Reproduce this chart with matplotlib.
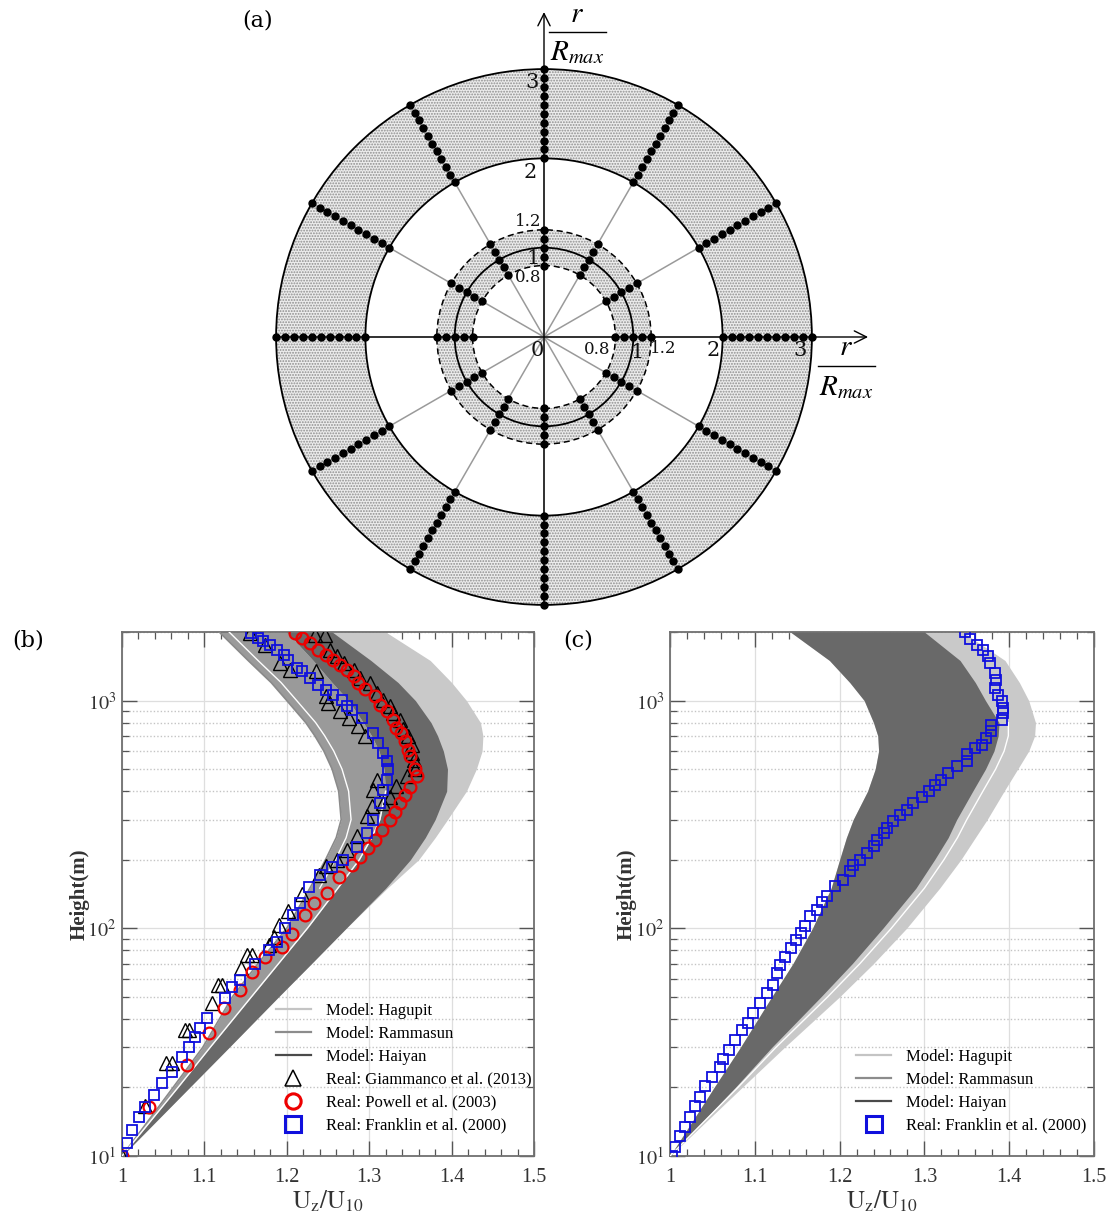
import numpy as np
import matplotlib
matplotlib.use("Agg")
import matplotlib.pyplot as plt
from matplotlib.patches import Wedge, Circle
from matplotlib.lines import Line2D
from matplotlib.ticker import MultipleLocator, FixedLocator, NullFormatter

plt.rcParams['mathtext.fontset'] = 'stix'
plt.rcParams['hatch.linewidth'] = 0.9

# ---------------- panel (a) data ----------------
spoke_angles_deg = [0, 30, 60, 90, 120, 150, 180, 210, 240, 270, 300, 330]
inner_ring_r = [0.8, 0.9, 1.0, 1.1, 1.2]
outer_ring_r = [2.0, 2.1, 2.2, 2.3, 2.4, 2.5, 2.6, 2.7, 2.8, 2.9, 3.0]
solid_circles_r = [1.0, 2.0, 3.0]
dashed_circles_r = [0.8, 1.2]
shaded_bands = [(0.8, 1.2), (2.0, 3.0)]

# ---------------- panel (b)/(c) model envelopes ----------------
band_h = [10, 20, 30, 50, 70, 100, 150, 200, 250, 300, 400, 500, 600, 700, 800, 1000, 1200, 1500, 2000]

ram_left_b = [1.000, 1.062, 1.098, 1.134, 1.165, 1.200, 1.228, 1.247, 1.260, 1.266, 1.263, 1.255, 1.245, 1.234, 1.223, 1.200, 1.181, 1.153, 1.118]
ram_gap_b = [1.000, 1.070, 1.108, 1.145, 1.177, 1.212, 1.240, 1.259, 1.272, 1.278, 1.275, 1.267, 1.257, 1.246, 1.235, 1.212, 1.193, 1.165, 1.130]
hai_left_b = [1.000, 1.068, 1.107, 1.157, 1.190, 1.225, 1.262, 1.288, 1.303, 1.313, 1.320, 1.318, 1.312, 1.303, 1.293, 1.275, 1.255, 1.232, 1.200]
hai_right_b = [1.000, 1.082, 1.130, 1.190, 1.230, 1.272, 1.320, 1.350, 1.368, 1.380, 1.394, 1.395, 1.390, 1.383, 1.375, 1.356, 1.335, 1.302, 1.255]
hag_right_b = [1.000, 1.082, 1.130, 1.190, 1.230, 1.272, 1.322, 1.360, 1.380, 1.395, 1.418, 1.430, 1.437, 1.438, 1.435, 1.418, 1.400, 1.374, 1.320]

hai_left_c = [1.000, 1.052, 1.083, 1.120, 1.145, 1.168, 1.190, 1.200, 1.208, 1.216, 1.233, 1.242, 1.246, 1.245, 1.240, 1.229, 1.212, 1.188, 1.142]
hai_right_c = [1.000, 1.077, 1.120, 1.178, 1.215, 1.251, 1.290, 1.312, 1.328, 1.338, 1.357, 1.372, 1.382, 1.387, 1.388, 1.372, 1.360, 1.342, 1.300]
hag_gap_c = [1.000, 1.080, 1.125, 1.186, 1.224, 1.261, 1.300, 1.323, 1.339, 1.350, 1.369, 1.384, 1.394, 1.399, 1.399, 1.385, 1.372, 1.354, 1.312]
hag_right_c = [1.000, 1.085, 1.135, 1.200, 1.240, 1.279, 1.318, 1.343, 1.360, 1.374, 1.394, 1.410, 1.423, 1.430, 1.431, 1.423, 1.412, 1.395, 1.345]

# ---------------- measured profiles ----------------
giam_x = [1.000, 1.028, 1.053, 1.061, 1.077, 1.081, 1.109, 1.117, 1.121, 1.144, 1.152, 1.158, 1.178, 1.184, 1.190, 1.202, 1.218, 1.239, 1.248, 1.261, 1.273, 1.285, 1.297, 1.303, 1.305, 1.309,
          1.295, 1.287, 1.275, 1.265, 1.250, 1.248, 1.236, 1.204, 1.192, 1.174, 1.155,
          1.317, 1.325, 1.333, 1.346, 1.356, 1.354, 1.352, 1.352, 1.347, 1.341, 1.337, 1.329, 1.325, 1.317, 1.309, 1.301, 1.289, 1.281, 1.269, 1.261, 1.252, 1.246, 1.234]
giam_h = [10, 16.5, 25.5, 25.5, 35.8, 35.8, 46.9, 56.6, 56.6, 66.8, 76.3, 76.3, 84.6, 92, 103.6, 119, 142, 172, 187, 200, 221, 253, 310, 343, 406, 449,
          697, 771, 839, 898, 977, 1045, 1345, 1368, 1466, 1762, 1985,
          355, 379, 420, 465, 498, 550, 589, 641, 697, 747, 824, 883, 943, 1009, 1082, 1196, 1260, 1368, 1466, 1566, 1675, 1950, 1950]

powell_x = [1.000, 1.033, 1.079, 1.106, 1.124, 1.143, 1.158, 1.174, 1.194, 1.206, 1.222, 1.233, 1.249, 1.263, 1.279, 1.289, 1.299, 1.307, 1.315, 1.325,
            1.331, 1.337, 1.343, 1.350, 1.358, 1.356, 1.350, 1.347, 1.343, 1.339, 1.333, 1.329, 1.321, 1.313, 1.307, 1.295, 1.287, 1.281, 1.273, 1.265,
            1.256, 1.248, 1.238, 1.228, 1.218, 1.210]
powell_h = [10, 16.4, 25.1, 34.7, 44.7, 53.7, 64, 75, 83, 94, 114, 129, 143, 168, 190, 206, 225, 245, 271, 300,
            325, 356, 385, 419, 465, 498, 569, 609, 663, 721, 759, 824, 898, 960, 1045, 1120, 1196, 1279, 1368, 1439,
            1514, 1592, 1675, 1796, 1888, 1985]

franklin_b_x = [1.000, 1.006, 1.012, 1.021, 1.028, 1.039, 1.049, 1.061, 1.073, 1.081, 1.089, 1.095, 1.103, 1.125, 1.134, 1.143, 1.162, 1.178, 1.188, 1.198,
                1.207, 1.216, 1.227, 1.240, 1.255, 1.268, 1.285, 1.297, 1.305, 1.313, 1.317, 1.321, 1.323, 1.321, 1.317, 1.311, 1.305, 1.291, 1.279, 1.273,
                1.267, 1.256, 1.248, 1.238, 1.228, 1.218, 1.212, 1.202, 1.196, 1.188, 1.180, 1.171, 1.165, 1.157]
franklin_b_h = [10, 11.4, 13, 14.8, 16.4, 18.5, 20.9, 23.4, 27.2, 30.1, 33.3, 36.6, 40.5, 49.5, 55, 59, 70, 80, 87, 100,
                114, 129, 152, 172, 185, 200, 228, 263, 300, 356, 406, 449, 498, 542, 589, 653, 721, 839, 912, 943,
                1009, 1062, 1117, 1175, 1260, 1345, 1390, 1514, 1592, 1675, 1762, 1824, 1888, 1985]

franklin_c_x = [1.002, 1.006, 1.012, 1.018, 1.024, 1.029, 1.035, 1.041, 1.049, 1.059, 1.063, 1.069, 1.077, 1.085, 1.092, 1.098, 1.106, 1.114, 1.122, 1.126,
                1.130, 1.136, 1.143, 1.149, 1.155, 1.159, 1.165, 1.173, 1.179, 1.185, 1.195, 1.204, 1.212, 1.216, 1.224, 1.232, 1.240, 1.244, 1.252, 1.256,
                1.263, 1.271, 1.279, 1.287, 1.297, 1.305, 1.312, 1.320, 1.328, 1.338, 1.350, 1.350, 1.360, 1.368, 1.373, 1.379, 1.379, 1.391, 1.393, 1.393,
                1.391, 1.387, 1.383, 1.385, 1.383, 1.377, 1.375, 1.369, 1.362, 1.354, 1.348]
franklin_c_h = [10, 11, 12.2, 13.4, 14.9, 16.5, 18.2, 20.2, 22.3, 24.7, 26.8, 29.2, 32.4, 35.8, 38.3, 42.4, 46.9, 51.9, 56.6, 63.6,
                69, 75, 82, 89, 95, 102, 113, 120, 131, 138, 153, 163, 178, 190, 200, 214, 229, 245, 263, 276,
                295, 315, 332, 355, 379, 400, 427, 449, 481, 514, 542, 580, 620, 641, 685, 733, 784, 824, 882, 928,
                993, 1062, 1135, 1236, 1324, 1466, 1566, 1675, 1762, 1854, 1990]

x_ticks = [1.0, 1.1, 1.2, 1.3, 1.4, 1.5]
x_tick_labels = ['1', '1.1', '1.2', '1.3', '1.4', '1.5']
y_ticks = [10, 100, 1000]
y_tick_labels = [r'$10^{1}$', r'$10^{2}$', r'$10^{3}$']

legend_b = ['Model: Hagupit', 'Model: Rammasun', 'Model: Haiyan',
            'Real: Giammanco et al. (2013)', 'Real: Powell et al. (2003)', 'Real: Franklin et al. (2000)']
legend_c = ['Model: Hagupit', 'Model: Rammasun', 'Model: Haiyan', 'Real: Franklin et al. (2000)']

C_LIGHT = '#c9c9c9'
C_MID = '#9a9a9a'
C_DARK = '#696969'
SERIF = 'Liberation Serif'

W, H = 1112, 1223
fig = plt.figure(figsize=(W / 100, H / 100), dpi=100)


def fx(px):
    return px / W


def fy(py):
    return 1 - py / H


# ================= panel (a) =================
cx, cy, unit = 544, 337, 89.3
ax_a = fig.add_axes([0, fy(620), 1, 620 / H])
ax_a.set_xlim(-cx / unit, (W - cx) / unit)
ax_a.set_ylim(-(620 - cy) / unit, cy / unit)
ax_a.axis('off')

for r_in, r_out in shaded_bands:
    ax_a.add_patch(Wedge((0, 0), r_out, 0, 360, width=r_out - r_in, facecolor='#ececec',
                         edgecolor='#8e8e8e', hatch='......', lw=0, zorder=1))
for ang in spoke_angles_deg:
    t = np.deg2rad(ang)
    ax_a.plot([0, 3 * np.cos(t)], [0, 3 * np.sin(t)], color='#9a9a9a', lw=1.1, zorder=2)
for r in solid_circles_r:
    ax_a.add_patch(Circle((0, 0), r, fill=False, ec='black', lw=1.3, zorder=3))
for r in dashed_circles_r:
    ax_a.add_patch(Circle((0, 0), r, fill=False, ec='black', lw=1.1, ls=(0, (4, 2.5)), zorder=3))
for ang in spoke_angles_deg:
    t = np.deg2rad(ang)
    rr = np.array(inner_ring_r + outer_ring_r)
    ax_a.plot(rr * np.cos(t), rr * np.sin(t), 'o', color='black', ms=5.0, zorder=5)

# axes arrows
ax_a.annotate('', xy=(3.66, 0), xytext=(-3.0, 0),
              arrowprops=dict(arrowstyle='->', lw=1.0, color='black', mutation_scale=22), zorder=4)
ax_a.annotate('', xy=(0, 3.67), xytext=(0, -3.0),
              arrowprops=dict(arrowstyle='->', lw=1.0, color='black', mutation_scale=22), zorder=4)

# tick labels of panel (a)
num_kw = dict(family='DejaVu Serif', color='#111111', ha='center', va='center', zorder=6)
fig.text(fx(537), fy(350), '0', fontsize=15, **num_kw)
fig.text(fx(597), fy(350), '0.8', fontsize=12, **num_kw)
fig.text(fx(637), fy(352), '1', fontsize=15, **num_kw)
fig.text(fx(663), fy(348), '1.2', fontsize=12, **num_kw)
fig.text(fx(713), fy(350), '2', fontsize=15, **num_kw)
fig.text(fx(800), fy(350), '3', fontsize=15, **num_kw)
fig.text(fx(532), fy(83), '3', fontsize=15, **num_kw)
fig.text(fx(530), fy(172), '2', fontsize=15, **num_kw)
fig.text(fx(528), fy(222), '1.2', fontsize=12, **num_kw)
fig.text(fx(533), fy(259), '1', fontsize=15, **num_kw)
fig.text(fx(528), fy(278), '0.8', fontsize=12, **num_kw)

# r / R_max labels
for (xc, y_r, y_bar, y_R) in [(577, 14, 32, 52), (846, 347, 366, 387)]:
    fig.text(fx(xc), fy(y_r), r'$r$', fontsize=21, ha='center', va='center')
    fig.add_artist(Line2D([fx(xc - 28), fx(xc + 29)], [fy(y_bar), fy(y_bar)], color='black', lw=1.0,
                          transform=fig.transFigure))
    fig.text(fx(xc), fy(y_R), r'$R_{max}$', fontsize=21, ha='center', va='center')

fig.text(fx(258), fy(20), '(a)', fontsize=16, family='DejaVu Serif', ha='center', va='center')
fig.text(fx(28), fy(640), '(b)', fontsize=16, family='DejaVu Serif', ha='center', va='center')
fig.text(fx(578), fy(640), '(c)', fontsize=16, family='DejaVu Serif', ha='center', va='center')


# ================= panels (b), (c) =================
def style_axes(ax):
    ax.set_yscale('log')
    ax.set_xlim(1.0, 1.5)
    ax.set_ylim(10, 2000)
    ax.set_axisbelow(True)
    ax.xaxis.set_major_locator(FixedLocator(x_ticks))
    ax.set_xticklabels(x_tick_labels)
    ax.xaxis.set_minor_locator(MultipleLocator(0.02))
    ax.yaxis.set_major_locator(FixedLocator(y_ticks))
    ax.set_yticklabels(y_tick_labels)
    ax.yaxis.set_minor_formatter(NullFormatter())
    ax.grid(True, which='major', color='#dedede', lw=0.9)
    ax.grid(True, which='minor', axis='y', color='#c4c4c4', lw=1.0, ls=(0, (1, 1.5)))
    ax.tick_params(which='both', direction='in', top=True, right=True, colors='#555555',
                   labelcolor='#333333', labelsize=14.5)
    ax.tick_params(axis='x', which='major', pad=9)
    ax.tick_params(axis='y', which='major', pad=4)
    ax.tick_params(which='major', length=11, width=1.0)
    ax.tick_params(which='minor', length=5, width=0.9)
    for lab in ax.get_xticklabels():
        lab.set_family(SERIF)
    for s in ax.spines.values():
        s.set_color('#707070')
        s.set_linewidth(1.3)
    ax.set_xlabel(r'$\mathrm{U_{z}/U_{10}}$', fontsize=18, color='#333333', labelpad=1)
    ax.set_ylabel('Height(m)', fontsize=15, family=SERIF, fontweight='bold', color='#333333')
    ax.yaxis.set_label_coords(-0.078, 0.5)


ax_b = fig.add_axes([fx(122), fy(1156), (534 - 122) / W, (1156 - 632) / H])
ax_c = fig.add_axes([fx(670), fy(1156), (1094 - 670) / W, (1156 - 632) / H])

# (b) bands
ax_b.fill_betweenx(band_h, hai_left_b, hag_right_b, color=C_LIGHT, lw=0, zorder=1)
ax_b.fill_betweenx(band_h, ram_left_b, hai_left_b, color=C_MID, lw=0, zorder=2)
ax_b.fill_betweenx(band_h, hai_left_b, hai_right_b, color=C_DARK, lw=0, zorder=3)
ax_b.plot(ram_left_b, band_h, color='#8a8a8a', lw=1.2, zorder=3)
ax_b.plot(ram_gap_b[6:], band_h[6:], color='white', lw=1.0, zorder=3)
ax_b.plot(hai_left_b[:11], band_h[:11], color='white', lw=1.0, zorder=3.5)

ax_b.plot(giam_x, giam_h, ls='none', marker='^', ms=10, mfc='none', mec='black', mew=1.0, zorder=5)
ax_b.plot(powell_x, powell_h, ls='none', marker='o', ms=8.5, mfc='none', mec='#ee0000', mew=1.6, zorder=6)
ax_b.plot(franklin_b_x, franklin_b_h, ls='none', marker='s', ms=7, mfc='none', mec='#1010dd', mew=1.3, zorder=7)

# (c) bands
ax_c.fill_betweenx(band_h, hai_left_c, hag_right_c, color=C_LIGHT, lw=0, zorder=1)
ax_c.fill_betweenx(band_h, hai_left_c, hai_right_c, color=C_DARK, lw=0, zorder=3)
ax_c.plot(hag_gap_c[:15], band_h[:15], color='white', lw=1.0, zorder=3.5)
ax_c.plot(franklin_c_x, franklin_c_h, ls='none', marker='s', ms=7, mfc='none', mec='#1010dd', mew=1.3, zorder=7)

for ax in (ax_b, ax_c):
    style_axes(ax)

line_handles = [Line2D([], [], color='#c4c4c4', lw=1.6),
                Line2D([], [], color='#8c8c8c', lw=1.6),
                Line2D([], [], color='#4a4a4a', lw=1.6)]
h_tri = Line2D([], [], ls='none', marker='^', ms=12, mfc='none', mec='black', mew=1.1)
h_cir = Line2D([], [], ls='none', marker='o', ms=11, mfc='none', mec='#ee0000', mew=2.2)
h_sq = Line2D([], [], ls='none', marker='s', ms=11, mfc='none', mec='#1010dd', mew=2.2)

leg_kw = dict(frameon=False, prop={'family': SERIF, 'size': 12}, handlelength=2.1,
              handletextpad=0.9, labelspacing=0.42, borderaxespad=0, loc='lower right')
leg_b = ax_b.legend(line_handles + [h_tri, h_cir, h_sq], legend_b,
                    bbox_to_anchor=(1.01, 0.03), **leg_kw)
leg_c = ax_c.legend(line_handles + [h_sq], legend_c,
                    bbox_to_anchor=(0.998, 0.03), **leg_kw)

fig.savefig('out.png', dpi=100)
